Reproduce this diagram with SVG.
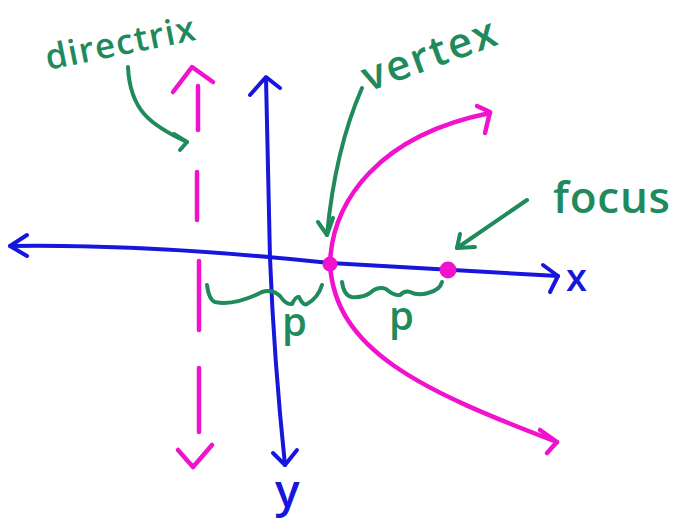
<svg xmlns="http://www.w3.org/2000/svg" width="674" height="531" viewBox="0 0 674 531">
<style>
.blue{fill:none;stroke:#1616dc;stroke-width:4;stroke-linecap:round;stroke-linejoin:round}
.mag{fill:none;stroke:#f012cc;stroke-width:4.5;stroke-linecap:round;stroke-linejoin:round}
.grn{fill:none;stroke:#1f8a5c;stroke-width:4;stroke-linecap:round;stroke-linejoin:round}
.dot{fill:#f012cc}
.gt{fill:#1f8a5c;font-family:"Open Sans","Liberation Sans",sans-serif;font-weight:600}
.bt{fill:#1616dc;font-family:"Open Sans","Liberation Sans",sans-serif;font-weight:600}
</style>
<rect width="674" height="531" fill="#ffffff"/>
<g id="x-axis">
<path class="blue" d="M10,246 Q150,244 330,263 L558,276"/>
<path class="blue" d="M27,235 L10,246 L27,256"/>
<path class="blue" d="M543,265 L558,276 L550,292"/>
<text class="bt" x="566" y="291" font-size="38">x</text>
</g>
<g id="y-axis">
<path class="blue" d="M266,78 Q268,170 270,258 Q274,360 285,465"/>
<path class="blue" d="M250,95 L266,77 L280,88"/>
<path class="blue" d="M273,453 L285,465 L297,450"/>
<text class="bt" x="275" y="507" font-size="46">y</text>
</g>
<g id="directrix">
<path class="mag" d="M198,86 L198,130 M197,172 L197,220 M199,261 L199,330 M199,368 L199,432"/>
<path class="mag" d="M173,92 L192,67 L213,82"/>
<path class="mag" d="M178,450 L193,467 L212,445"/>
</g>
<g id="parabola">
<path class="mag" d="M330,264 C332,200 380,135 490,113"/>
<path class="mag" d="M477,106 L490,112 L485,133"/>
<path class="mag" d="M330,264 C335,350 420,390 557,442"/>
<path class="mag" d="M540,430 L557,442 L547,453"/>
</g>
<g id="vertex-point"><circle class="dot" cx="330" cy="264" r="7.5"/></g>
<g id="focus-point"><circle class="dot" cx="448" cy="270" r="8.5"/></g>
<g id="label-directrix"><text class="gt" x="48" y="70" font-size="35" transform="rotate(-11.5 48 70)" textLength="152" lengthAdjust="spacing">directrix</text></g>
<g id="label-vertex"><text class="gt" x="368" y="92" font-size="42" transform="rotate(-20 368 92)" textLength="140" lengthAdjust="spacing">vertex</text></g>
<g id="label-focus"><text class="gt" x="553" y="213" font-size="44" textLength="117" lengthAdjust="spacing">focus</text></g>
<g id="label-p-left"><text class="gt" x="282" y="336" font-size="40">p</text></g>
<g id="label-p-right"><text class="gt" x="389" y="330" font-size="40">p</text></g>
<g id="connectors">
<path class="grn" d="M128,67 C130,110 150,125 187,142"/>
<path class="grn" d="M174,134 L187,142 L180,150"/>
<path class="grn" d="M362,88 Q335,150 327,235"/>
<path class="grn" d="M318,222 L327,235 L333,218"/>
<path class="grn" d="M527,200 L457,248"/>
<path class="grn" d="M460,234 L457,248 L475,247"/>
<path class="grn" d="M207,285 Q209,300 215,302 Q235,306 262,292 Q272,289 280,296 Q286,305 292,304 Q296,296 299,297 Q303,306 307,304 Q318,298 322,285"/>
<path class="grn" d="M342,282 Q344,296 352,297 Q362,298 370,293 Q378,286 386,289 Q394,296 400,295 Q405,290 410,292 Q418,296 428,293 Q440,290 442,282"/>
</g>
</svg>
